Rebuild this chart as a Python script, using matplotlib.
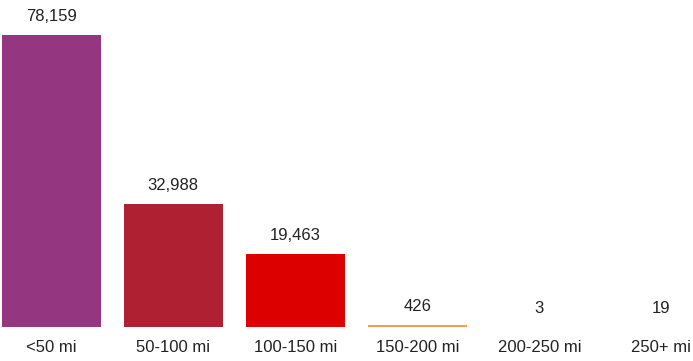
import matplotlib
matplotlib.use("Agg")
import matplotlib.pyplot as plt

plt.rcParams["font.family"] = ["Liberation Sans", "DejaVu Sans"]

categories = ["<50 mi", "50-100 mi", "100-150 mi", "150-200 mi", "200-250 mi", "250+ mi"]
counts = [78159, 32988, 19463, 426, 3, 19]
colors = ["#943680", "#AF2132", "#DC0000", "#F2A04A", "#F5C07A", "#F8D8A0"]

fig = plt.figure(figsize=(6.93, 3.61), dpi=100)
ax = fig.add_axes([0, 34 / 361, 1, 327 / 361])

x = range(len(categories))
bars = ax.bar(x, counts, width=0.81, color=colors)
ax.set_xlim(-0.42, 5.26)
ax.set_ylim(0, 78159 * 327 / 292)

for xi, v in zip(x, counts):
    ax.annotate(f"{v:,}", (xi, v), xytext=(0, 8), textcoords="offset points",
                ha="center", va="bottom", fontsize=12, color="#222222")
    ax.annotate(categories[xi], (xi, 0), xytext=(0, -15), textcoords="offset points",
                ha="center", va="center", fontsize=12, color="#222222",
                annotation_clip=False)

ax.axis("off")
fig.savefig("out.png", dpi=100)
